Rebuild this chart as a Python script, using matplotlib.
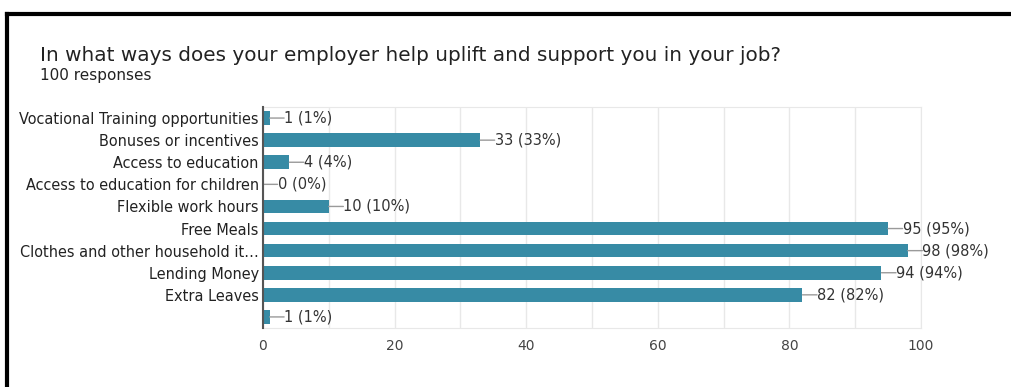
import matplotlib.pyplot as plt
from matplotlib.ticker import MultipleLocator
from matplotlib.lines import Line2D

# Survey answers and counts (100 responses)
options = [
    'Vocational Training opportunities',
    'Bonuses or incentives',
    'Access to education',
    'Access to education for children',
    'Flexible work hours',
    'Free Meals',
    'Clothes and other household it\u2026',
    'Lending Money',
    'Extra Leaves',
    '',
]
counts = [1, 33, 4, 0, 10, 95, 98, 94, 82, 1]
total = 100

plt.rcParams['font.family'] = ['DejaVu Sans']

fig = plt.figure(figsize=(10.11, 3.87), dpi=100)
ax = fig.add_axes([0.2601, 0.1525, 0.6508, 0.571])

positions = list(range(len(options)))
ax.barh(positions, counts, height=0.62, color='#378ba5', zorder=3)

# value labels, each joined to its bar by a short grey leader line
lead = 10.5
for y, v in zip(positions, counts):
    ax.annotate('', xy=(v, y), xytext=(lead, 0), textcoords='offset points',
                arrowprops=dict(arrowstyle='-', color='#9a9a9a', lw=1,
                                shrinkA=0, shrinkB=0))
    ax.annotate(f'{v} ({v * 100 // total}%)', xy=(v, y), xytext=(lead, 0),
                textcoords='offset points', ha='left', va='center',
                fontsize=10.5, color='#333333')

ax.set_yticks(positions)
ax.set_yticklabels(options, fontsize=10.45, color='#222222')
ax.set_ylim(len(options) - 0.5, -0.5)
ax.set_xlim(0, 100)
ax.xaxis.set_major_locator(MultipleLocator(20))
ax.xaxis.set_minor_locator(MultipleLocator(10))
ax.tick_params(axis='x', which='both', length=0, labelsize=10,
               labelcolor='#444444', pad=8)
ax.tick_params(axis='y', length=0, pad=3)
ax.grid(axis='x', which='both', color='#e8e8e8', lw=1, zorder=0)

for side in ['top', 'bottom', 'right']:
    ax.spines[side].set_color('#e8e8e8')
ax.spines['left'].set_color('#555555')
ax.spines['left'].set_linewidth(1.5)
ax.spines['left'].set_zorder(4)

fig.text(0.0396, 0.857, 'In what ways does your employer help uplift and support you in your job?',
         fontsize=14.45, color='#222222', ha='left', va='center')
fig.text(0.0396, 0.805, '100 responses', fontsize=11, color='#222222',
         ha='left', va='center')

# frame lines along the top and left of the card
fig.add_artist(Line2D([0.0069, 1.0], [0.963, 0.963], color='black', lw=3,
                      transform=fig.transFigure))
fig.add_artist(Line2D([0.0074, 0.0074], [0.0, 0.964], color='black', lw=3,
                      transform=fig.transFigure))

fig.savefig('out.png', dpi=100)
